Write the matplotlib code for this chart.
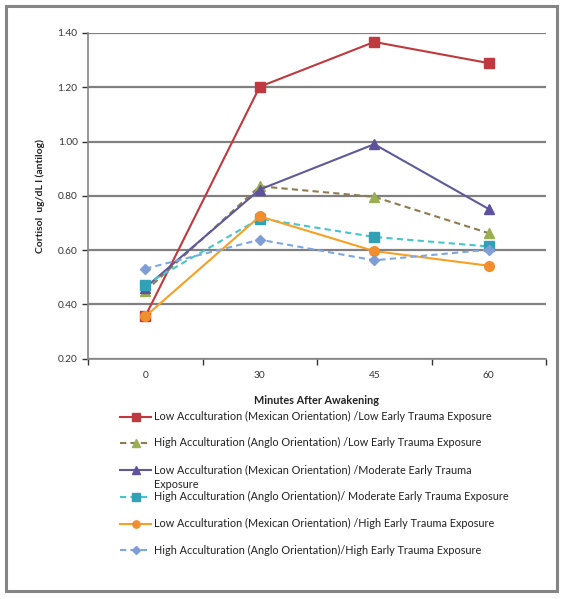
import numpy as np
import matplotlib.pyplot as plt
from matplotlib.lines import Line2D
from matplotlib.patches import Rectangle

plt.rcParams['font.family'] = ['Lato', 'DejaVu Sans']

# ---- data ----
minutes = ['0', '30', '45', '60']
low_mex_low = [0.355, 1.202, 1.367, 1.289]
high_anglo_low = [0.448, 0.835, 0.796, 0.662]
low_mex_mod = [0.461, 0.823, 0.990, 0.751]
high_anglo_mod = [0.472, 0.716, 0.648, 0.613]
low_mex_high = [0.355, 0.724, 0.596, 0.542]
high_anglo_high = [0.531, 0.638, 0.562, 0.601]

labels = [
    'Low Acculturation (Mexican Orientation) /Low Early Trauma Exposure',
    'High Acculturation (Anglo Orientation) /Low Early Trauma Exposure',
    'Low Acculturation (Mexican Orientation) /Moderate Early Trauma',
    'High Acculturation (Anglo Orientation)/ Moderate Early Trauma Exposure',
    'Low Acculturation (Mexican Orientation) /High Early Trauma Exposure',
    'High Acculturation (Anglo Orientation)/High Early Trauma Exposure',
]

series = [low_mex_low, high_anglo_low, low_mex_mod,
          high_anglo_mod, low_mex_high, high_anglo_high]

# line colour, marker colour, marker, linestyle, marker size
styles = [
    ('#C0393F', '#BE3A40', 's', '-', 7),
    ('#8E7C4E', '#9AAF52', '^', '--', 7.5),
    ('#5C5A9C', '#5E519E', '^', '-', 7.5),
    ('#44C6CC', '#31A2B6', 's', '--', 7),
    ('#F7A024', '#F28E2E', 'o', '-', 7),
    ('#7FA6E2', '#7F9ED8', 'D', '--', 5.5),
]

# ---- figure ----
W, H = 565, 599
fig = plt.figure(figsize=(W / 100, H / 100), dpi=100)
fig.patches.append(Rectangle((6 / W, 1 - 591 / H), 551 / W, 585 / H,
                             transform=fig.transFigure, fill=False,
                             edgecolor='#858585', lw=2.2, zorder=0))

ax = fig.add_axes([88 / W, 1 - 358.5 / H, 458 / W, 325.5 / H])
x = np.arange(len(minutes))

for vals, (lc, mc, mk, ls, ms) in zip(series, styles):
    ax.plot(x, vals, color=lc, ls=ls, lw=1.5, marker=mk, ms=ms,
            mfc=mc, mec=mc, dashes=(3, 2) if ls == '--' else (None, None),
            zorder=3)

ax.set_xlim(-0.5, len(minutes) - 0.5)
ax.set_ylim(0.2, 1.4)
ax.set_yticks(np.arange(0.2, 1.41, 0.2))
ax.set_yticklabels([f'{v:.2f}' for v in np.arange(0.2, 1.41, 0.2)])
ax.yaxis.grid(True, color='#808080', lw=1.6)
ax.set_axisbelow(True)

ax.set_xticks(np.arange(-0.5, len(minutes), 1.0))
ax.set_xticklabels([])
ax.set_xticks(x, minor=True)
ax.set_xticklabels(minutes, minor=True)
ax.tick_params(axis='x', which='minor', length=0, pad=9)
ax.tick_params(axis='both', which='major', length=4, color='#868686',
               width=1)
ax.tick_params(labelsize=7.3, colors='#333333')
ax.tick_params(axis='x', which='minor', labelsize=7.3, labelcolor='#333333')

for s in ['top', 'right']:
    ax.spines[s].set_visible(False)
for s in ['left', 'bottom']:
    ax.spines[s].set_color('#868686')
    ax.spines[s].set_linewidth(1.2)

ax.set_ylabel('Cortisol  ug/dL l (antilog)', fontsize=7.5, fontweight='bold',
              color='#222222', labelpad=9)
fig.text(317 / W, 1 - 401 / H, 'Minutes After Awakening', fontsize=7.8,
         fontweight='bold', ha='center', va='center', color='#222222')

# ---- legend ----
leg_y = [416.5, 442.5, 470, 496.5, 523.5, 550]
for yy, lab, (lc, mc, mk, ls, ms) in zip(leg_y, labels, styles):
    yf = 1 - yy / H
    fig.add_artist(Line2D([120 / W, 151 / W], [yf, yf], color=lc, ls=ls,
                          lw=1.5, dashes=(3, 2) if ls == '--' else (None, None),
                          transform=fig.transFigure))
    fig.add_artist(Line2D([136 / W], [yf], marker=mk, ms=ms * 0.75,
                          mfc=mc, mec=mc, transform=fig.transFigure))
    fig.text(154 / W, yf, lab, fontsize=7.8, va='center', ha='left',
             color='#222222')
fig.text(154 / W, 1 - 484.5 / H, 'Exposure', fontsize=7.8, va='center',
         ha='left', color='#222222')

fig.savefig('out.png', dpi=100)
